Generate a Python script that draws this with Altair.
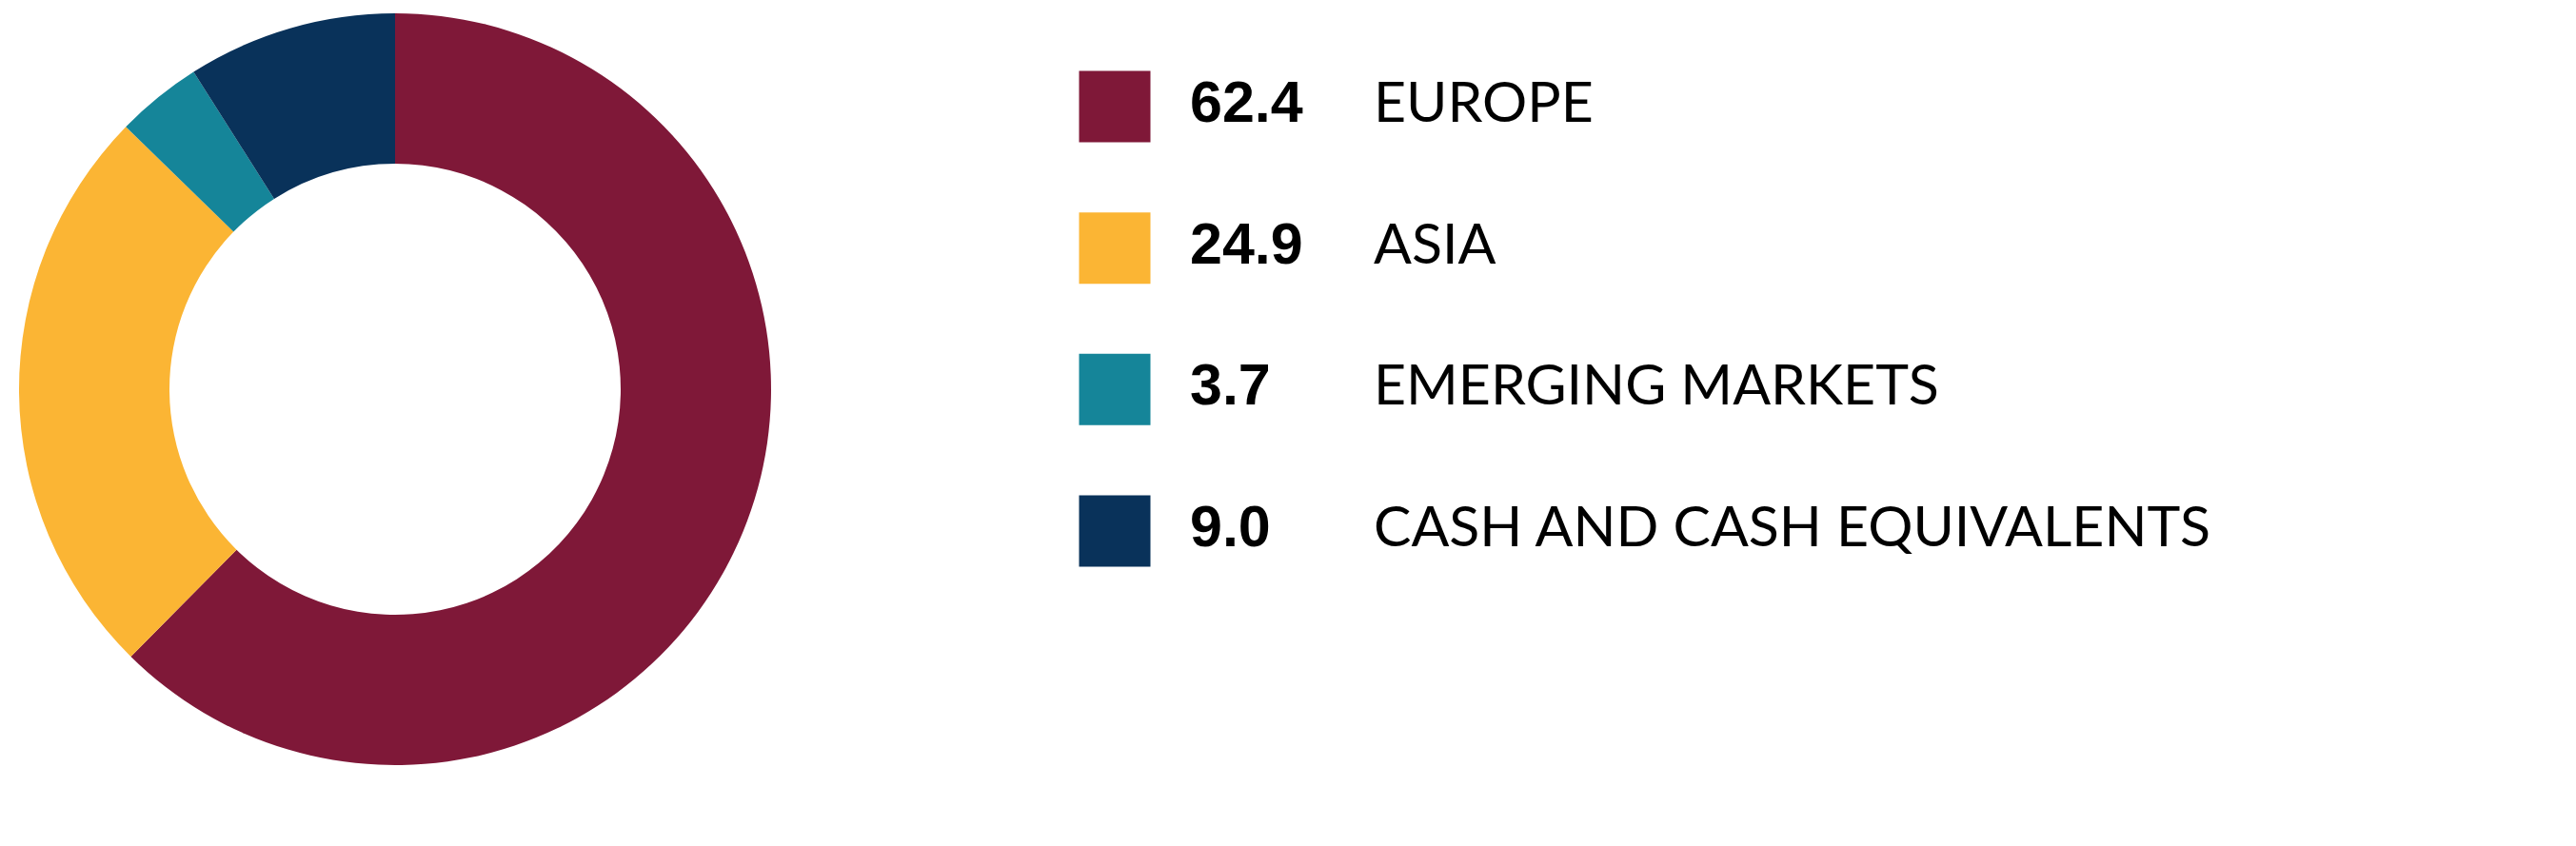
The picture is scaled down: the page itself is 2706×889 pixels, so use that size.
import altair as alt
import pandas as pd

categories = ["EUROPE", "ASIA", "EMERGING MARKETS", "CASH AND CASH EQUIVALENTS"]
values = [62.4, 24.9, 3.7, 9.0]
value_labels = ["62.4", "24.9", "3.7", "9.0"]
colors = ["#7F1838", "#FBB534", "#158599", "#09325A"]

df = pd.DataFrame({
    "cat": categories,
    "value": values,
    "label": value_labels,
    "order": list(range(len(categories))),
})

color_scale = alt.Scale(domain=categories, range=colors)
y_scale = alt.Scale(type="point", domain=categories, range=[104, 550], padding=0)

base = alt.Chart(df)

donut = base.mark_arc(radius=395, radius2=237, x=407, y=401, strokeWidth=0).encode(
    theta=alt.Theta("value:Q", stack=True),
    order=alt.Order("order:Q"),
    color=alt.Color("cat:N", scale=color_scale, legend=None),
)

squares = base.mark_square(size=5625, opacity=1, strokeWidth=0, filled=True).encode(
    x=alt.value(1163),
    y=alt.Y("cat:N", scale=y_scale, axis=None),
    color=alt.Color("cat:N", scale=color_scale, legend=None),
)

nums = base.mark_text(align="left", baseline="middle", font="Liberation Sans", fontWeight="bold",
                      fontSize=61, color="#000000", dy=-2).encode(
    x=alt.value(1242),
    y=alt.Y("cat:N", scale=y_scale, axis=None),
    text="label:N",
)

labels = base.mark_text(align="left", baseline="middle", font="Lato", fontWeight=400,
                        fontSize=59, color="#000000", dy=-2).encode(
    x=alt.value(1435),
    y=alt.Y("cat:N", scale=y_scale, axis=None),
    text="cat:N",
)

chart = alt.layer(donut, squares, nums, labels).properties(
    width=2690, height=873, padding=0, autosize=alt.AutoSizeParams(type="none"),
).configure(background="#ffffff").configure_view(stroke=None)

chart.save("out.html", embed_options={"renderer": "svg", "actions": False})
